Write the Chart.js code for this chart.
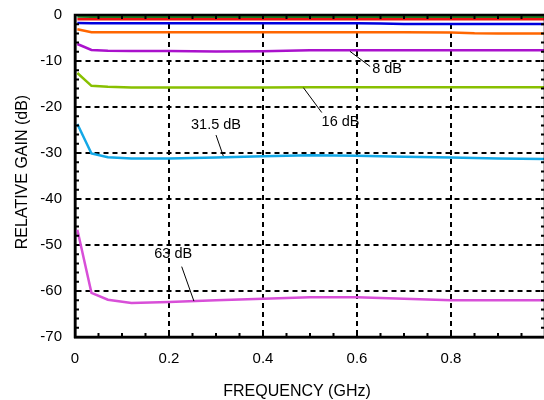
<!DOCTYPE html>
<html>
<head>
<meta charset="utf-8">
<script src="https://cdn.jsdelivr.net/npm/chart.js@4.4.1/dist/chart.umd.min.js"></script>
<style>
html,body{margin:0;padding:0;overflow:hidden;background:#fff;width:544px;height:400px;}
#wrap{width:560px;height:400px;}
</style>
</head>
<body>
<div id="wrap"><canvas id="c" width="560" height="400"></canvas></div>
<script>
// Frequencies (GHz) at which each curve is sampled
const freqGHz = [0.005, 0.035, 0.07, 0.12, 0.2, 0.3, 0.4, 0.5, 0.6, 0.65, 0.7, 0.8, 0.85, 0.9, 1.0];
// Relative gain (dB) per attenuation state
const gain05  = [-0.3, -0.37, -0.37, -0.37, -0.37, -0.37, -0.37, -0.37, -0.37, -0.37, -0.37, -0.37, -0.37, -0.37, -0.37];
const gain1   = [-0.9, -0.9, -0.9, -0.9, -0.9, -0.9, -0.9, -0.9, -0.9, -0.9, -0.9, -0.9, -0.9, -0.9, -0.9];
const gain2   = [-1.75, -1.8, -1.8, -1.8, -1.8, -1.8, -1.8, -1.8, -1.8, -1.85, -1.96, -1.96, -1.96, -1.96, -1.96];
const gain4   = [-3.1, -3.75, -3.75, -3.75, -3.75, -3.75, -3.75, -3.75, -3.75, -3.75, -3.75, -3.8, -3.98, -4.0, -4.0];
const gain8   = [-6.3, -7.6, -7.75, -7.8, -7.85, -7.95, -7.9, -7.65, -7.65, -7.65, -7.65, -7.65, -7.65, -7.65, -7.65];
const gain16  = [-12.6, -15.4, -15.6, -15.75, -15.75, -15.75, -15.75, -15.7, -15.7, -15.7, -15.7, -15.7, -15.7, -15.7, -15.7];
const gain315 = [-23.7, -30.1, -30.9, -31.2, -31.2, -31.0, -30.7, -30.5, -30.6, -30.7, -30.8, -31.0, -31.1, -31.2, -31.3];
const gain63  = [-46.7, -60.4, -61.9, -62.6, -62.4, -62.0, -61.7, -61.35, -61.35, -61.5, -61.7, -62.0, -62.0, -62.0, -62.0];
// Axis tick labels
const xTickLabels = ["0", "0.2", "0.4", "0.6", "0.8"];
const yTickLabels = ["0", "-10", "-20", "-30", "-40", "-50", "-60", "-70"];
// Curve labels: text, leader start (on curve), leader end, text centre (data coords)
const noteText = ["8 dB", "16 dB", "31.5 dB", "63 dB"];
const noteFrom = [[0.585, -7.9], [0.486, -15.8], [0.3, -26.1], [0.227, -54.7]];
const noteTo   = [[0.628, -11.2], [0.525, -21.2], [0.3155, -30.65], [0.253, -62.2]];
const noteAt   = [[0.664, -11.75], [0.565, -23.2], [0.3, -23.9], [0.209, -51.96]];

const series = [
  {d: gain05, c: '#1e7b1e'},
  {d: gain1, c: '#ee1111'},
  {d: gain2, c: '#0000dd'},
  {d: gain4, c: '#ff6600'},
  {d: gain8, c: '#aa11cc'},
  {d: gain16, c: '#88c000'},
  {d: gain315, c: '#14a8e6'},
  {d: gain63, c: '#d84fd8'}
];

const FONT = "'Liberation Sans', Arial, Helvetica, sans-serif";

const extras = {
  id: 'extras',
  afterDatasetsDraw(chart) {
    const {ctx, chartArea: a, scales: {x, y}} = chart;
    ctx.save();
    // frame
    ctx.strokeStyle = '#000';
    ctx.lineWidth = 2.5;
    ctx.strokeRect(a.left, a.top, a.right - a.left, a.bottom - a.top);
    // minor ticks
    ctx.lineWidth = 2;
    ctx.beginPath();
    for (let i = 0; i <= 20; i++) {
      const px = x.getPixelForValue(i * 0.05);
      ctx.moveTo(px, a.bottom); ctx.lineTo(px, a.bottom - 4);
      ctx.moveTo(px, a.top); ctx.lineTo(px, a.top + 4);
    }
    for (let i = 0; i <= 35; i++) {
      const py = y.getPixelForValue(-i * 2);
      ctx.moveTo(a.left, py); ctx.lineTo(a.left + 4, py);
      ctx.moveTo(a.right, py); ctx.lineTo(a.right - 4, py);
    }
    ctx.stroke();
    // annotations
    ctx.lineWidth = 1;
    ctx.fillStyle = '#000';
    ctx.font = '14.5px ' + FONT;
    ctx.textAlign = 'center';
    ctx.textBaseline = 'middle';
    for (let i = 0; i < noteText.length; i++) {
      ctx.beginPath();
      ctx.moveTo(x.getPixelForValue(noteFrom[i][0]), y.getPixelForValue(noteFrom[i][1]));
      ctx.lineTo(x.getPixelForValue(noteTo[i][0]), y.getPixelForValue(noteTo[i][1]));
      ctx.stroke();
      ctx.fillText(noteText[i], x.getPixelForValue(noteAt[i][0]), y.getPixelForValue(noteAt[i][1]));
    }
    // axis titles
    ctx.font = '16px ' + FONT;
    ctx.fillText('FREQUENCY (GHz)', 297, 391.5);
    ctx.translate(22.5, 172);
    ctx.rotate(-Math.PI / 2);
    ctx.fillText('RELATIVE GAIN (dB)', 0, 0);
    ctx.restore();
  }
};

new Chart(document.getElementById('c'), {
  type: 'line',
  data: {
    datasets: series.map(s => ({
      data: freqGHz.map((f, i) => ({x: f, y: s.d[i]})),
      borderColor: s.c,
      borderWidth: 2.5,
      pointRadius: 0,
      tension: 0,
      fill: false
    }))
  },
  options: {
    responsive: false,
    animation: false,
    devicePixelRatio: 1,
    layout: {padding: {top: 15, right: 15, left: 0, bottom: 0}},
    plugins: {legend: {display: false}, tooltip: {enabled: false}},
    scales: {
      x: {
        type: 'linear', min: 0, max: 1.0,
        afterFit(s) { s.height = 63; s.paddingLeft = 0; s.paddingRight = 0; },
        ticks: {
          stepSize: 0.2, maxRotation: 0, autoSkip: false, padding: 13,
          color: '#000', font: {family: FONT, size: 15},
          callback: (v) => { const k = Math.round(v / 0.2); return k < xTickLabels.length ? xTickLabels[k] : ''; }
        },
        grid: {color: '#000', lineWidth: 2, drawTicks: false},
        border: {display: true, color: '#000', width: 2.5, dash: [5, 4]}
      },
      y: {
        min: -70, max: 0,
        afterFit(s) { s.width = 75; s.paddingTop = 0; s.paddingBottom = 0; },
        ticks: {
          stepSize: 10, padding: 13, autoSkip: false,
          color: '#000', font: {family: FONT, size: 15},
          callback: (v) => yTickLabels[Math.round(-v / 10)]
        },
        grid: {color: '#000', lineWidth: 2, drawTicks: false},
        border: {display: true, color: '#000', width: 2.5, dash: [5, 4]}
      }
    }
  },
  plugins: [extras]
});
</script>
</body>
</html>
